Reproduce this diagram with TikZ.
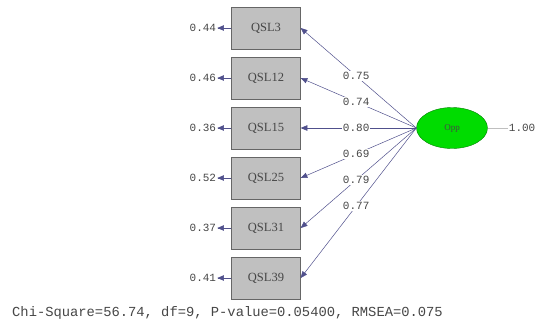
\documentclass[tikz,border=0pt]{standalone}
\usepackage{fontspec}
\usepackage{tikz}
\usetikzlibrary{arrows,positioning,shapes.geometric}
\setmainfont{Liberation Serif}
\newfontfamily\monofont{Liberation Mono}
\definecolor{boxgrey}{RGB}{192,192,192}
\definecolor{linenavy}{RGB}{80,80,140}
\definecolor{oppgreen}{RGB}{0,220,0}
\definecolor{textgrey}{RGB}{70,70,70}

\begin{document}
\begin{tikzpicture}[x=1pt,y=-1pt,node distance=50pt]

\tikzset{itembox/.style={draw=black!60,fill=boxgrey,minimum width=69pt,minimum height=42pt,inner sep=0pt,font=\fontsize{12.5}{14}\selectfont,text=textgrey},
latent/.style={ellipse,draw=green!50!black,fill=oppgreen,minimum width=71pt,minimum height=41pt,inner sep=0pt,font=\fontsize{9}{10}\selectfont,text=textgrey},
errlabel/.style={font=\monofont\fontsize{11}{12}\selectfont,text=textgrey,inner sep=1pt},
loading/.style={draw=linenavy,line width=0.5pt,-triangle 45},
loadlabel/.style={font=\monofont\fontsize{11}{12}\selectfont,text=textgrey,fill=white,inner sep=1pt,pos=0.52}}

\useasboundingbox (0,0) rectangle (536,327);

% Observed items
\node[itembox] (q3) at (266,28) {QSL3};
\node (q12) [itembox,below of=q3] {QSL12};
\node (q15) [itembox,below of=q12] {QSL15};
\node (q25) [itembox,below of=q15] {QSL25};
\node (q31) [itembox,below of=q25] {QSL31};
\node (q39) [itembox,below of=q31] {QSL39};

% Latent factor
\node[latent] (opp) at (452,128) {Opp};
\node[errlabel,right=20pt of opp] (v) {1.00};
\draw[black!25,line width=0.4pt] (opp) -- (v);

% Error variances
\node[errlabel,left=14pt of q3] (e3) {0.44};
\node[errlabel,left=14pt of q12] (e12) {0.46};
\node[errlabel,left=14pt of q15] (e15) {0.36};
\node[errlabel,left=14pt of q25] (e25) {0.52};
\node[errlabel,left=14pt of q31] (e31) {0.37};
\node[errlabel,left=14pt of q39] (e39) {0.41};
\draw[loading] (q3) -- (e3); \draw[loading] (q12) -- (e12); \draw[loading] (q15) -- (e15); \draw[loading] (q25) -- (e25); \draw[loading] (q31) -- (e31); \draw[loading] (q39) -- (e39);

% Loadings
\draw[loading] (opp.west) -- (q3.east) node[loadlabel] {0.75};
\draw[loading] (opp.west) -- (q12.east) node[loadlabel] {0.74};
\draw[loading] (opp.west) -- (q15.east) node[loadlabel] {0.80};
\draw[loading] (opp.west) -- (q25.east) node[loadlabel] {0.69};
\draw[loading] (opp.west) -- (q31.east) node[loadlabel] {0.79};
\draw[loading] (opp.west) -- (q39.east) node[loadlabel] {0.77};

% Fit statistics
\node[font=\monofont\fontsize{13.8}{15}\selectfont,text=textgrey,anchor=west,inner sep=0pt] (fit) at (12,313) {Chi-Square=56.74, df=9, P-value=0.05400, RMSEA=0.075};

\end{tikzpicture}
\end{document}
